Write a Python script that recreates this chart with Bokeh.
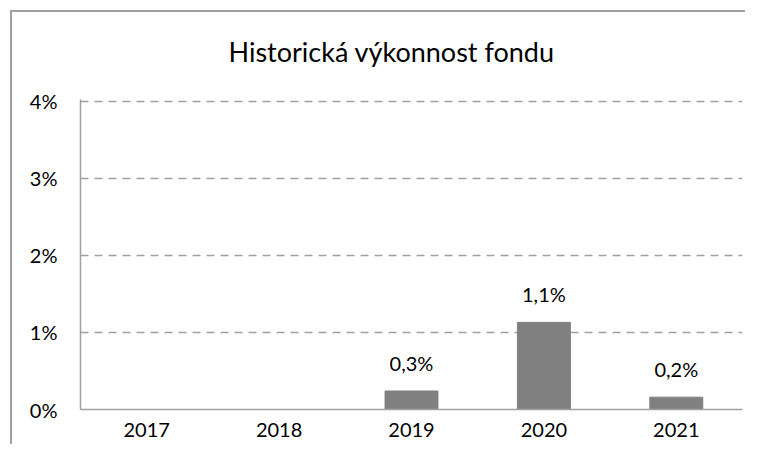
from bokeh.plotting import figure
from bokeh.models import ColumnDataSource, Range1d, FixedTicker, Title
from bokeh.core.properties import value
from bokeh.embed import file_html
from bokeh.resources import INLINE

years = ["2017", "2018", "2019", "2020", "2021"]
returns = [0.0, 0.0, 0.24, 1.13, 0.16]
labels = ["", "", "0,3%", "1,1%", "0,2%"]
y_ticks = [0, 1, 2, 3, 4]
y_tick_labels = ["0%", "1%", "2%", "3%", "4%"]
title_text = "Historická výkonnost fondu"

FONT = "Lato"
W, H = 745, 444

src = ColumnDataSource(dict(year=years, ret=returns, lab=labels))

p = figure(x_range=years, y_range=Range1d(0, 4.02), width=W, height=H,
           output_backend="svg", toolbar_location=None,
           min_border_left=80, min_border_top=99,
           min_border_right=W - 742, min_border_bottom=H - 409)
p.outline_line_color = None
p.background_fill_color = "white"
p.border_fill_color = "white"
p.border_fill_alpha = 0
# outer chart frame: only its top and left edges fall inside the window
p.styles = {
    "background": ("linear-gradient(#a0a0a0, #a0a0a0) 10px 10px / 749px 2px no-repeat, "
                   "linear-gradient(#a0a0a0, #a0a0a0) 10px 10px / 2px 442px no-repeat, "
                   "white"),
}

p.title = Title(text=title_text, text_font=FONT, text_font_size="27px",
                text_font_style="normal", text_color="#000000",
                align="left", offset=148, standoff=64)

p.vbar(x="year", top="ret", width=0.4, source=src,
       fill_color="#808080", line_color="#808080")
p.text(x="year", y="ret", text="lab", source=src,
       text_align="center", text_baseline="bottom", y_offset=-16,
       text_font=value(FONT), text_font_size="20px", text_color="#000000")

# axes
p.yaxis.ticker = FixedTicker(ticks=y_ticks)
p.yaxis.major_label_overrides = {t: l for t, l in zip(y_ticks, y_tick_labels)}
for ax in (p.xaxis[0], p.yaxis[0]):
    ax.axis_line_color = "#a0a0a0"
    ax.axis_line_width = 1.5
    ax.major_tick_line_color = None
    ax.minor_tick_line_color = None
    ax.major_label_text_font = FONT
    ax.major_label_text_font_size = "20px"
    ax.major_label_text_color = "#000000"
p.yaxis.major_label_standoff = 17
p.xaxis.major_label_standoff = 7

p.xgrid.grid_line_color = None
p.ygrid.ticker = FixedTicker(ticks=y_ticks[1:])
p.ygrid.grid_line_color = "#a0a0a0"
p.ygrid.grid_line_dash = "8 6"
p.ygrid.grid_line_width = 1.5

open("out.html", "w").write(file_html(p, INLINE))
